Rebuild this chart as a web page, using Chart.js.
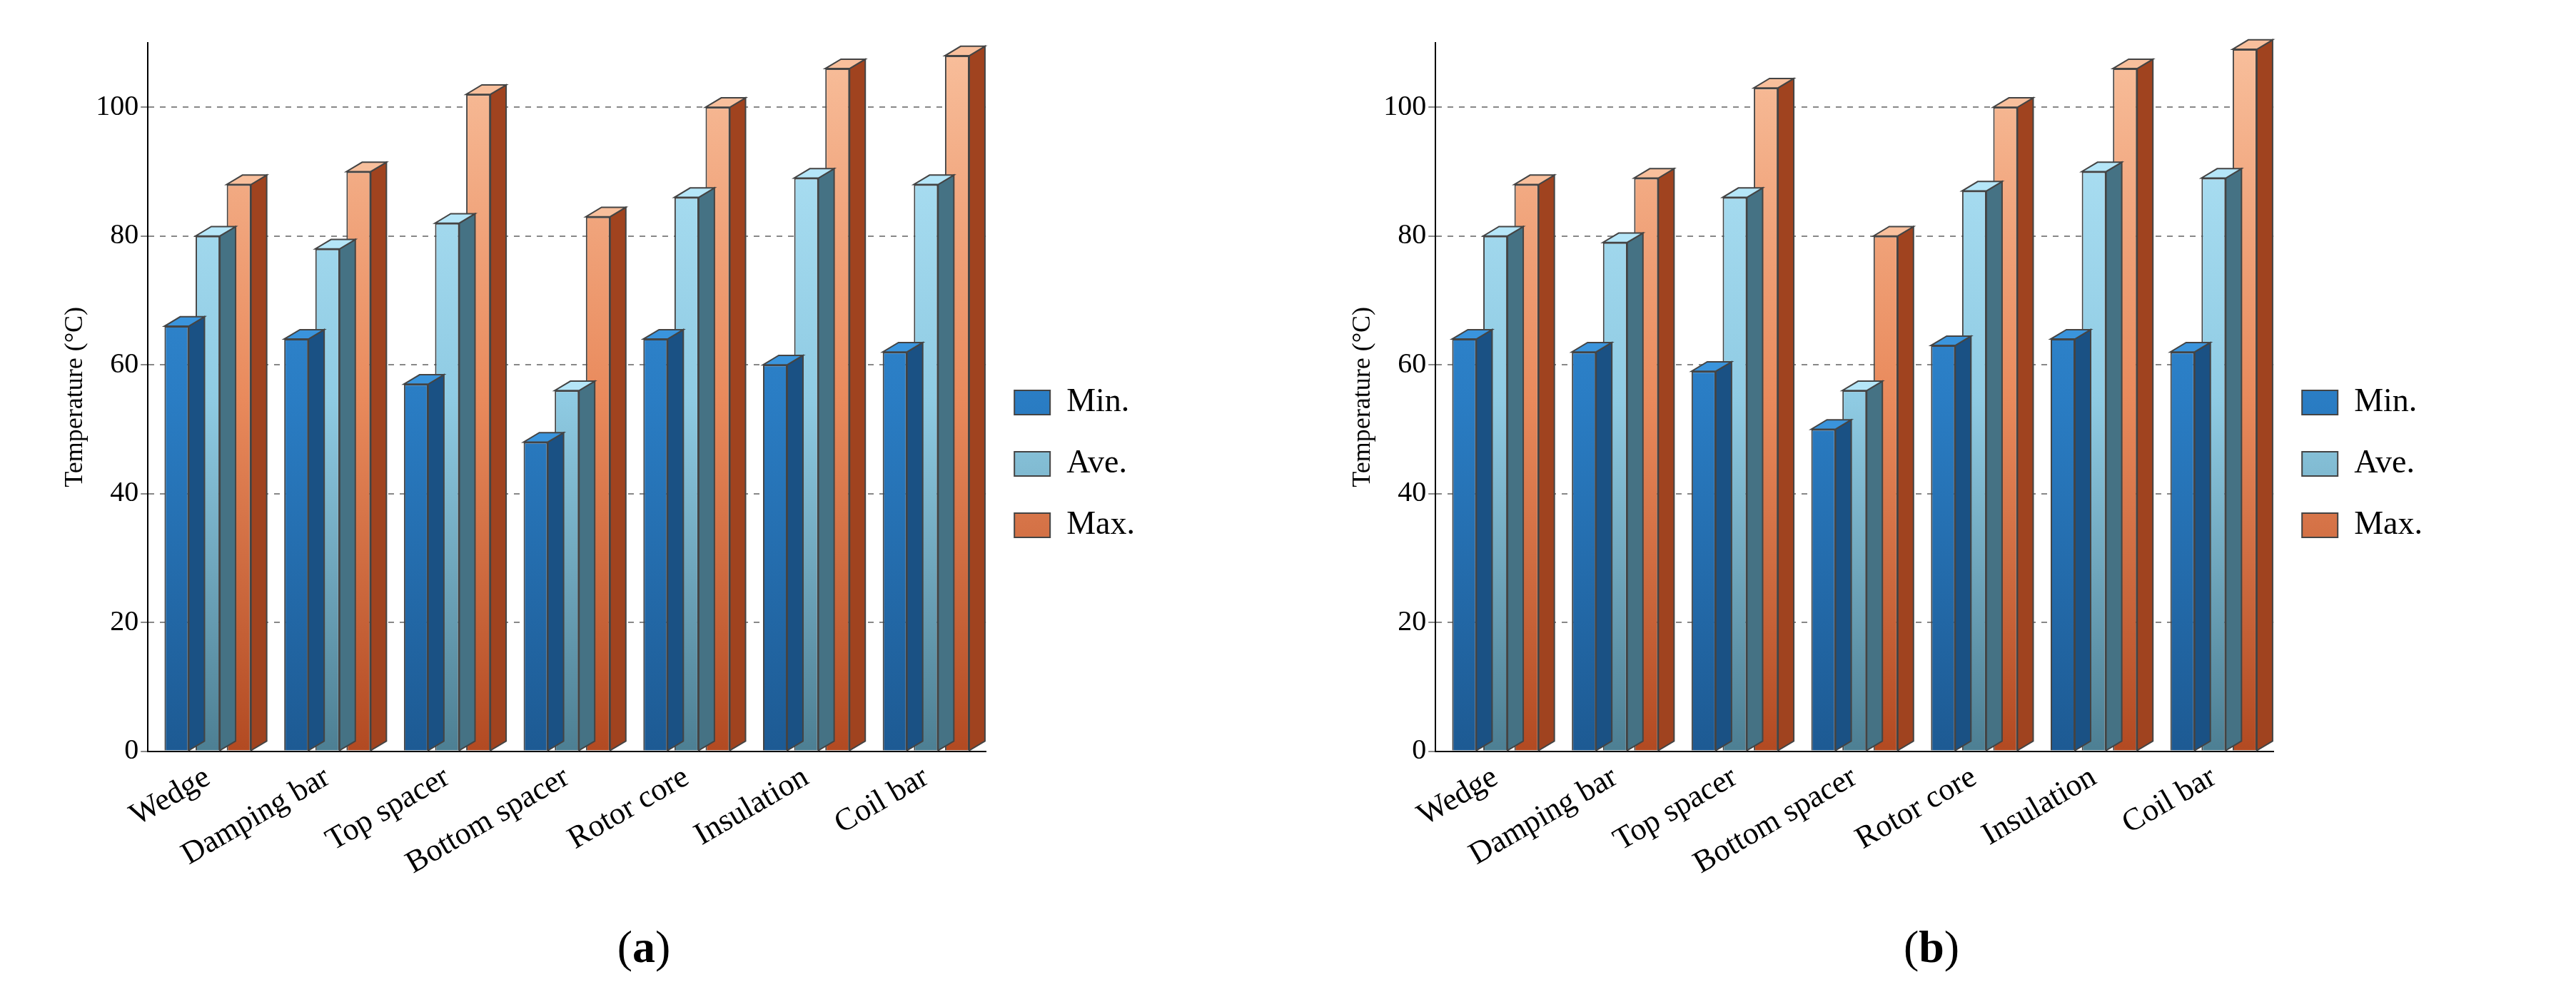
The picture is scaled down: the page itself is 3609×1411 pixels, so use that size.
<!DOCTYPE html>
<html>
<head>
<meta charset="utf-8">
<script src="https://cdn.jsdelivr.net/npm/chart.js@4.4.0/dist/chart.umd.min.js"></script>
<style>
  body { margin: 0; background: #fff; font-family: "Liberation Serif", serif; }
  .wrap { display: flex; width: 3609px; height: 1411px; }
  .panel { width: 1804px; height: 1411px; position: relative; }
  .chart { position: absolute; left: 80px; top: 20px; width: 1560px; height: 1220px; }
  .cap { position: absolute; top: 1290px; width: 100%; text-align: center; font-size: 64px; }
</style>
</head>
<body>
<div class="wrap">
  <div class="panel"><div class="chart"><canvas id="chartA"></canvas></div><div class="cap">(<b>a</b>)</div></div>
  <div class="panel"><div class="chart"><canvas id="chartB"></canvas></div><div class="cap">(<b>b</b>)</div></div>
</div>
<script>
const categories = ["Wedge", "Damping bar", "Top spacer", "Bottom spacer", "Rotor core", "Insulation", "Coil bar"];
const seriesNames = ["Min.", "Ave.", "Max."];

const minA = [66, 64, 57, 48, 64, 60, 62];
const aveA = [80, 78, 82, 56, 86, 89, 88];
const maxA = [88, 90, 102, 83, 100, 106, 108];

const minB = [64, 62, 59, 50, 63, 64, 62];
const aveB = [80, 79, 86, 56, 87, 90, 89];
const maxB = [88, 89, 103, 80, 100, 106, 109];

const yTicks = [0, 20, 40, 60, 80, 100];

// light top / main / dark bottom for each series
const palettes = [
  ["#3a94dc", "#2a7dc4", "#1d5a93"],
  ["#b5e6f8", "#8fcbe3", "#4d7f93"],
  ["#f8bf9c", "#e98a5c", "#b24a22"]
];

function shade(hex, f) {
  const n = parseInt(hex.slice(1), 16);
  let r = (n >> 16) & 255, g = (n >> 8) & 255, b = n & 255;
  return `rgb(${Math.round(r * f)},${Math.round(g * f)},${Math.round(b * f)})`;
}

const depthPlugin = {
  id: "depth",
  afterDatasetDraw(chart, args) {
    const ctx = chart.ctx;
    const pal = palettes[args.index];
    const d = 22;
    ctx.save();
    ctx.strokeStyle = "#444";
    ctx.lineWidth = 2;
    args.meta.data.forEach(bar => {
      const { x, y, base, width } = bar.getProps(["x", "y", "base", "width"], true);
      const l = x - width / 2, r = x + width / 2;
      // side face
      ctx.beginPath();
      ctx.moveTo(r, y); ctx.lineTo(r + d, y - d * 0.6);
      ctx.lineTo(r + d, base - d * 0.6); ctx.lineTo(r, base); ctx.closePath();
      ctx.fillStyle = shade(pal[2], 0.9);
      ctx.fill(); ctx.stroke();
      // top face
      ctx.beginPath();
      ctx.moveTo(l, y); ctx.lineTo(r, y);
      ctx.lineTo(r + d, y - d * 0.6); ctx.lineTo(l + d, y - d * 0.6); ctx.closePath();
      ctx.fillStyle = pal[0];
      ctx.fill(); ctx.stroke();
    });
    ctx.restore();
  }
};

function gradientFor(i) {
  return (context) => {
    const { chart } = context;
    const area = chart.chartArea;
    if (!area) return palettes[i][1];
    const g = chart.ctx.createLinearGradient(0, area.top, 0, area.bottom);
    g.addColorStop(0, palettes[i][0]);
    g.addColorStop(0.5, palettes[i][1]);
    g.addColorStop(1, palettes[i][2]);
    return g;
  };
}

function makeChart(id, mins, aves, maxs) {
  const values = [mins, aves, maxs];
  new Chart(document.getElementById(id), {
    type: "bar",
    data: {
      labels: categories,
      datasets: seriesNames.map((name, i) => ({
        label: name,
        data: values[i],
        backgroundColor: gradientFor(i),
        borderColor: "#444",
        borderWidth: 2,
        categoryPercentage: 0.78,
        barPercentage: 0.78
      }))
    },
    options: {
      responsive: true,
      maintainAspectRatio: false,
      animation: false,
      layout: { padding: { top: 40, right: 40 } },
      plugins: {
        legend: {
          position: "right",
          labels: { font: { family: "Liberation Serif", size: 46 }, color: "#000", boxWidth: 50, boxHeight: 34, padding: 40 }
        },
        tooltip: { enabled: false }
      },
      scales: {
        x: {
          grid: { display: false },
          border: { color: "#000", width: 2 },
          ticks: { font: { family: "Liberation Serif", size: 44 }, color: "#000", maxRotation: 30, minRotation: 30 }
        },
        y: {
          min: 0,
          max: 110,
          afterBuildTicks: (axis) => { axis.ticks = yTicks.map(v => ({ value: v })); },
          grid: { color: "#888", lineWidth: 2, tickLength: 10 },
          border: { color: "#000", width: 2, dash: [8, 8] },
          ticks: { font: { family: "Liberation Serif", size: 40 }, color: "#000" },
          title: { display: true, text: "Temperature (°C)", font: { family: "Liberation Serif", size: 36 }, color: "#000" }
        }
      }
    },
    plugins: [depthPlugin]
  });
}

makeChart("chartA", minA, aveA, maxA);
makeChart("chartB", minB, aveB, maxB);
</script>
</body>
</html>
